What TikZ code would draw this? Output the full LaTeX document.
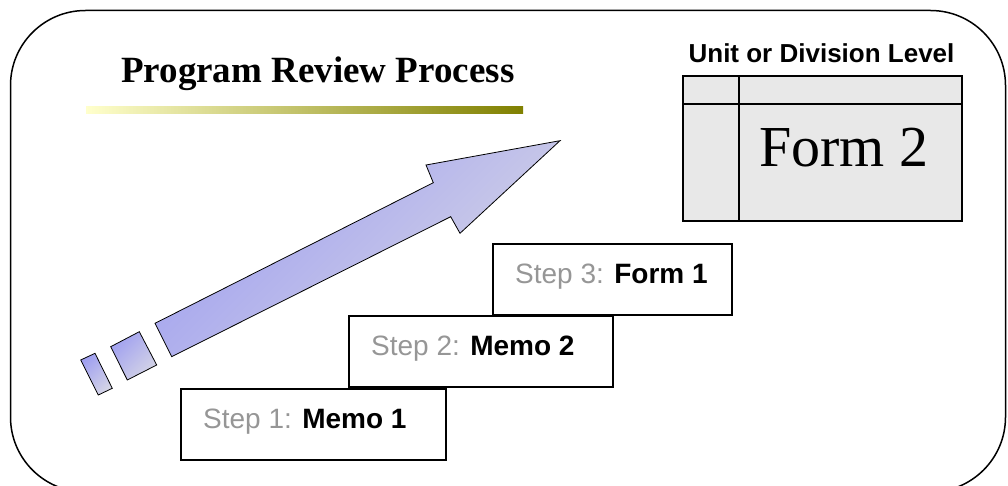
\documentclass[tikz,border=0pt]{standalone}
\usepackage{fontspec}
\setmainfont{Liberation Serif}
\setsansfont{Liberation Sans}
\usetikzlibrary{positioning}

\definecolor{barlight}{RGB}{255,255,204}
\definecolor{bardark}{RGB}{128,128,0}
\definecolor{arrowdark}{RGB}{160,160,240}
\definecolor{arrowlight}{RGB}{212,212,230}
\definecolor{formgray}{RGB}{232,232,232}
\definecolor{stepgray}{RGB}{150,150,150}

\tikzset{
  stepbox/.style={draw, line width=2pt, anchor=north west, outer sep=0pt, inner sep=0pt, minimum height=71pt},
  steptext/.style={anchor=base west, inner sep=0pt, font=\sffamily\fontsize{28}{34}\selectfont},
  arrowpart/.style={draw=black, line width=0.8pt, top color=arrowdark, bottom color=arrowlight, shading angle=45},
  formline/.style={line width=2pt}
}

\begin{document}
\begin{tikzpicture}[x=1pt,y=-1pt]
  \useasboundingbox (0,0) rectangle (1008,486);
  \clip (0,0) rectangle (1008,486);

  % outer frame
  \draw[line width=1.5pt, rounded corners=75pt] (10.5,10.5) rectangle (1005.5,492);

  % title with its bar
  \node[anchor=base west, inner sep=0pt, font=\bfseries\fontsize{37}{44}\selectfont] (title) at (121,83) {Program Review Process};
  \shade[left color=barlight, right color=bardark] (86,107) rectangle (523,114);

  % rising arrow and the two pieces behind it
  \shadedraw[arrowpart] (560,140.7) -- (426,165) -- (433.3,182.7) -- (155,323.3) -- (171.7,356.7) -- (450.7,216.7) -- (460,233.3) -- cycle;
  \shadedraw[arrowpart] (110.7,346.7) -- (139.3,331.7) -- (156.7,365) -- (127.3,380) -- cycle;
  \shadedraw[arrowpart] (80.7,360) -- (95,353.3) -- (112.3,388.3) -- (98.3,395) -- cycle;

  % the steps
  \node[stepbox, minimum width=265pt] (step1) at (181,389) {};
  \node[stepbox, minimum width=264pt] (step2) at (349,316) {};
  \node[stepbox, minimum width=239pt] (step3) at (493,244) {};
  \node[steptext] (step1text) at ([shift={(22,39.5)}]step1.north west) {\textcolor{stepgray}{Step 1:} \textbf{Memo 1}};
  \node[steptext] (step2text) at ([shift={(22,39.5)}]step2.north west) {\textcolor{stepgray}{Step 2:} \textbf{Memo 2}};
  \node[steptext] (step3text) at ([shift={(22,39.5)}]step3.north west) {\textcolor{stepgray}{Step 3:} \textbf{Form 1}};

  % form 2 sheet
  \node[anchor=base, inner sep=0pt, font=\sffamily\bfseries\fontsize{26}{30}\selectfont] (level) at (821.5,63) {Unit or Division Level};
  \node[draw, fill=formgray, formline, anchor=north west, outer sep=0pt, inner sep=0pt, minimum width=279pt, minimum height=145pt] (form) at (683,76) {};
  \draw[formline] ([yshift=-28pt]form.north west) -- ([yshift=-28pt]form.north east);
  \draw[formline] ([xshift=56pt]form.north west) -- ([xshift=56pt]form.south west);
  \node[anchor=base west, inner sep=0pt, font=\fontsize{58}{66}\selectfont] (formname) at (759,167) {Form 2};
\end{tikzpicture}
\end{document}
